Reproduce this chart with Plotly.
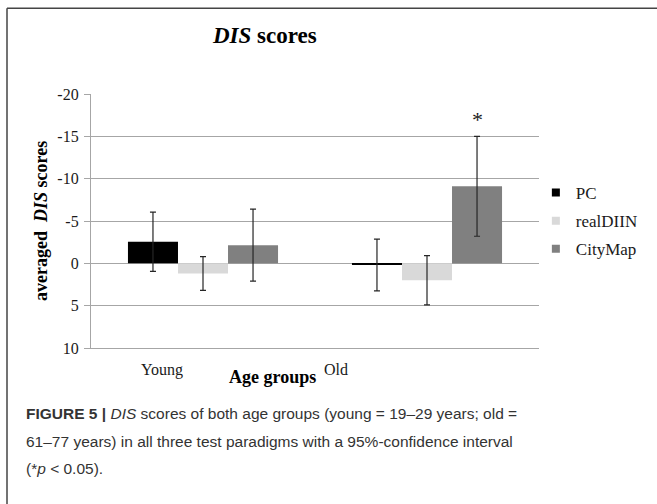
import plotly.graph_objects as go

# Age groups and test paradigms
groups = ["Young", "Old"]
paradigms = ["PC", "realDIIN", "CityMap"]

# Averaged DIS scores per paradigm (Young, Old)
pc_scores = [-2.55, 0.2]
realdiin_scores = [1.2, 2.0]
citymap_scores = [-2.15, -9.1]

# 95%-confidence interval half-widths
pc_ci = [3.5, 3.05]
realdiin_ci = [2.0, 2.9]
citymap_ci = [4.25, 5.9]

# Y axis ticks
y_ticks = [-20, -15, -10, -5, 0, 5, 10]

colors = {"PC": "#000000", "realDIIN": "#d9d9d9", "CityMap": "#808080"}
series = {
    "PC": (pc_scores, pc_ci),
    "realDIIN": (realdiin_scores, realdiin_ci),
    "CityMap": (citymap_scores, citymap_ci),
}

SERIF = "Liberation Serif, Times New Roman, serif"
SANS = "Liberation Sans, Arial, sans-serif"
GRID = "#a6a6a6"

fig = go.Figure()
for name in paradigms:
    vals, ci = series[name]
    fig.add_trace(go.Bar(
        name=name, x=groups, y=vals,
        marker=dict(color=colors[name], line=dict(width=0)),
        error_y=dict(type="data", array=ci, visible=True,
                     color="#262626", thickness=1.2, width=3),
        showlegend=False,
    ))

# Small square legend keys
for i, name in enumerate(paradigms):
    fig.add_trace(go.Scatter(
        x=[None], y=[None], mode="markers", name=name,
        marker=dict(symbol="square", size=8, color=colors[name]),
        legendgroup=name, showlegend=True,
    ))

fig.update_layout(
    width=657, height=504,
    margin=dict(l=91, r=118, t=94, b=156),
    paper_bgcolor="white", plot_bgcolor="white",
    barmode="group", bargap=0.33, bargroupgap=0,
    font=dict(family=SERIF, size=16, color="#1a1a1a"),
    legend=dict(x=0.993, xanchor="left", y=0.5, yanchor="middle",
                font=dict(family=SERIF, size=17, color="#1a1a1a"),
                tracegroupgap=3, itemwidth=30, bgcolor="rgba(0,0,0,0)"),
    showlegend=True,
)

fig.update_xaxes(
    showticklabels=False, showline=True, linecolor=GRID, linewidth=1.3,
    showgrid=False, ticks="", fixedrange=True,
)
fig.update_yaxes(
    range=[10, -20], tickvals=y_ticks, ticktext=[str(v) for v in y_ticks],
    showgrid=True, gridcolor=GRID, gridwidth=1.3,
    zeroline=True, zerolinecolor=GRID, zerolinewidth=1.3,
    showline=True, linecolor=GRID, linewidth=1.3,
    ticks="outside", ticklen=6, tickcolor=GRID, tickwidth=1.3,
    tickfont=dict(family=SERIF, size=16, color="#1a1a1a"),
    ticklabelstandoff=2,
)

annotations = [
    # Chart title
    dict(text="<b><i>DIS</i> scores</b>", xref="paper", yref="paper",
         x=0.388, y=1.229, xanchor="center", yanchor="middle", showarrow=False,
         font=dict(family=SERIF, size=23, color="#000000")),
    # Y axis title
    dict(text="<b>averaged\u00a0 <i>DIS</i> scores</b>", xref="paper", yref="paper",
         x=-0.1116, y=0.5, xanchor="center", yanchor="middle", textangle=-90,
         showarrow=False, font=dict(family=SERIF, size=18, color="#000000")),
    # X axis title
    dict(text="<b>Age groups</b>", xref="paper", yref="paper",
         x=(272 - 91) / 448, y=-0.113, xanchor="center", yanchor="middle",
         showarrow=False, font=dict(family=SERIF, size=18, color="#000000")),
    # Category labels
    dict(text=groups[0], xref="x", yref="paper", x=groups[0], xshift=-41,
         y=-0.085, xanchor="center", yanchor="middle", showarrow=False,
         font=dict(family=SERIF, size=16, color="#1a1a1a")),
    dict(text=groups[1], xref="x", yref="paper", x=groups[1], xshift=-91,
         y=-0.085, xanchor="center", yanchor="middle", showarrow=False,
         font=dict(family=SERIF, size=16, color="#1a1a1a")),
    # Significance marker above the Old / CityMap interval
    dict(text="*", xref="x", yref="y", x=groups[1], xshift=50,
         y=citymap_scores[1] - citymap_ci[1], yanchor="bottom", yshift=2,
         showarrow=False, font=dict(family=SERIF, size=22, color="#1a1a1a")),
]

caption_lines = [
    "<b>FIGURE 5 |</b> <i>DIS</i> scores of both age groups (young = 19\u201329 years; old =",
    "61\u201377 years) in all three test paradigms with a 95%-confidence interval",
    "(*<i>p</i> &lt; 0.05).",
]
caption_y = [414, 442, 469]
for line, ypx in zip(caption_lines, caption_y):
    annotations.append(dict(
        text=line, xref="paper", yref="paper",
        x=(24 - 91) / 448, y=(348.3 - ypx) / 254,
        xanchor="left", yanchor="middle", showarrow=False, align="left",
        font=dict(family=SANS, size=15.5, color="#333333"),
    ))

fig.update_layout(annotations=annotations)

# Frame around the figure panel (top and left edges)
fig.add_shape(type="line", xref="paper", yref="paper",
              x0=(7 - 91) / 448, x1=(660 - 91) / 448,
              y0=(348.3 - 8.5) / 254, y1=(348.3 - 8.5) / 254,
              line=dict(color="#444444", width=1.5))
fig.add_shape(type="line", xref="paper", yref="paper",
              x0=(7 - 91) / 448, x1=(7 - 91) / 448,
              y0=(348.3 - 8.5) / 254, y1=(348.3 - 510) / 254,
              line=dict(color="#444444", width=1.5))

fig.write_html("out.html")
